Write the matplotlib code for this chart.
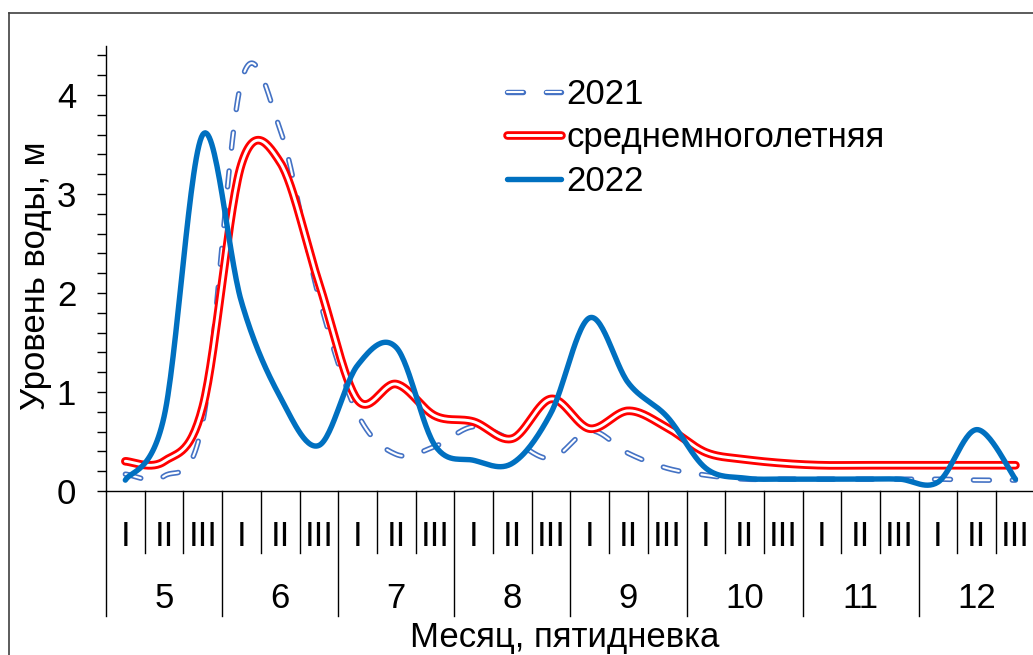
import numpy as np
import matplotlib
matplotlib.use('Agg')
import matplotlib.pyplot as plt
from matplotlib.lines import Line2D
from matplotlib.legend_handler import HandlerTuple
from matplotlib.ticker import MultipleLocator

plt.rcParams['font.family'] = ['Liberation Sans', 'DejaVu Sans']
plt.rcParams['lines.scale_dashes'] = False

months = ['5', '6', '7', '8', '9', '10', '11', '12']
periods = ['I', 'II', 'III']

y2021 = [0.17, 0.15, 0.70, 4.14, 3.65, 1.96, 0.78, 0.37, 0.45, 0.65, 0.51, 0.33,
         0.61, 0.38, 0.23, 0.16, 0.12, 0.12, 0.12, 0.12, 0.12, 0.12, 0.11, 0.11]
ymean = [0.30, 0.30, 0.85, 3.30, 3.32, 2.10, 0.92, 1.08, 0.76, 0.70, 0.53, 0.93,
         0.63, 0.81, 0.64, 0.39, 0.32, 0.28, 0.26, 0.26, 0.26, 0.26, 0.26, 0.26]
y2022 = [0.11, 0.75, 3.60, 1.91, 0.95, 0.46, 1.27, 1.45, 0.46, 0.31, 0.28, 0.79,
         1.75, 1.09, 0.75, 0.23, 0.13, 0.12, 0.12, 0.12, 0.12, 0.09, 0.62, 0.12]

series_labels = ['2021', 'среднемноголетняя', '2022']


def smooth(y, n=30):
    """Excel-like smoothed line (cubic Bezier through points)."""
    x = np.arange(len(y)) + 0.5
    P = np.column_stack([x, np.asarray(y, float)])
    out = []
    m = len(P)
    for i in range(m - 1):
        p0 = P[i - 1] if i > 0 else P[i]
        p1, p2 = P[i], P[i + 1]
        p3 = P[i + 2] if i + 2 < m else P[i + 1]
        c1 = p1 + (p2 - p0) / 6.0
        c2 = p2 - (p3 - p1) / 6.0
        t = np.linspace(0, 1, n, endpoint=(i == m - 2))[:, None]
        seg = ((1 - t) ** 3) * p1 + 3 * ((1 - t) ** 2) * t * c1 \
            + 3 * (1 - t) * (t ** 2) * c2 + (t ** 3) * p2
        out.append(seg)
    out = np.vstack(out)
    return out[:, 0], out[:, 1]


W, H = 1033, 655
FS = 25
fig = plt.figure(figsize=(W / 100, H / 100), dpi=100)
ax_left, ax_right, ax_top, ax_bottom = 106, 1034.8, 45.5, 491
ax = fig.add_axes([ax_left / W, 1 - ax_bottom / H,
                   (ax_right - ax_left) / W, (ax_bottom - ax_top) / H])
ax.set_xlim(0, 24)
ax.set_ylim(0, 4.5)

c21 = '#4472C4'
cmean = '#FF0000'
c22 = '#0070C0'
dash = (11.5, 16.5)
lw21o, lw21i = 3.9, 1.5
lwmo, lwmi = 6.2, 2.1
lw22 = 3.9

# 2021 dashed outlined
x, y = smooth(y2021)
ax.plot(x, y, color=c21, lw=lw21o, dashes=dash, dash_capstyle='round', zorder=3)
ax.plot(x, y, color='white', lw=lw21i, dashes=dash, dash_capstyle='round', zorder=3.1)
# mean double line
x, y = smooth(ymean)
ax.plot(x, y, color=cmean, lw=lwmo, solid_capstyle='round', zorder=4)
ax.plot(x, y, color='white', lw=lwmi, solid_capstyle='round', zorder=4.1)
# 2022
x, y = smooth(y2022)
ax.plot(x, y, color=c22, lw=lw22, solid_capstyle='round', zorder=5)

# spines
for s in ['top', 'right']:
    ax.spines[s].set_visible(False)
for s in ['left', 'bottom']:
    ax.spines[s].set_color('black')
    ax.spines[s].set_linewidth(1.0)

# y axis
ax.yaxis.set_major_locator(MultipleLocator(1))
ax.yaxis.set_minor_locator(MultipleLocator(0.2))
ax.tick_params(axis='y', which='both', direction='out', length=6.5, width=1.0,
               color='black', labelsize=FS, pad=15.0)
ax.set_xticks([])

# multi-level category axis
hpx = ax_bottom - ax_top
def ay(px):
    return -(px - ax_bottom) / hpx

tr = ax.get_xaxis_transform()
for k in range(25):
    yb = ay(616) if k % 3 == 0 else ay(553)
    ax.plot([k, k], [0, yb], transform=tr, clip_on=False, color='black', lw=1.0)
for i in range(24):
    ax.text(i + 0.5, ay(545.7), periods[i % 3], transform=tr, ha='center',
            va='baseline', fontsize=FS)
for j, m in enumerate(months):
    ax.text(3 * j + 1.5, ay(608.3), m, transform=tr, ha='center',
            va='baseline', fontsize=FS)

fig.text(565 / W, 1 - 647 / H, 'Месяц, пятидневка', ha='center', va='baseline',
         fontsize=FS)
fig.text(45 / W, 1 - 275.5 / H, 'Уровень воды, м', rotation=90,
         rotation_mode='anchor', ha='center', va='baseline', fontsize=FS)

# legend
h21 = (Line2D([], [], color=c21, lw=lw21o, dashes=dash, dash_capstyle='round'),
       Line2D([], [], color='white', lw=lw21i, dashes=dash, dash_capstyle='round'))
hmean = (Line2D([], [], color=cmean, lw=lwmo, solid_capstyle='round'),
         Line2D([], [], color='white', lw=lwmi, solid_capstyle='round'))
h22 = Line2D([], [], color=c22, lw=lw22, solid_capstyle='round')
ax.legend([h21, hmean, h22], series_labels,
          handler_map={tuple: HandlerTuple(ndivide=1, pad=0)},
          loc='upper left', bbox_to_anchor=(507 / W, 1 - 78 / H),
          bbox_transform=fig.transFigure, frameon=False, borderpad=0,
          borderaxespad=0, handlelength=1.55, handletextpad=0.15,
          labelspacing=0.3, fontsize=FS)

# chart-area border (cropped at right and bottom)
fig.add_artist(Line2D([8.5 / W, 8.5 / W], [0, 1 - 12.5 / H],
                      transform=fig.transFigure, color='#404040', lw=1.2))
fig.add_artist(Line2D([8.5 / W, 1], [1 - 12.5 / H, 1 - 12.5 / H],
                      transform=fig.transFigure, color='#404040', lw=1.2))

fig.savefig('out.png', dpi=100)
